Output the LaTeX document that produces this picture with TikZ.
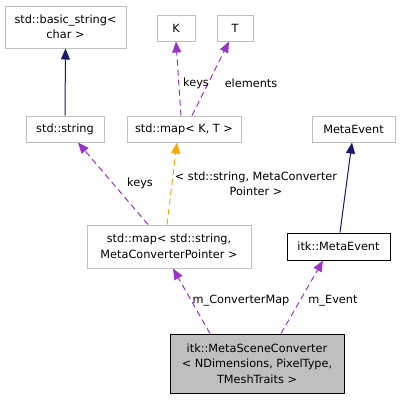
\documentclass[tikz,border=0pt]{standalone}
\usepackage{fontspec}
\setmainfont{DejaVu Sans}
\usetikzlibrary{arrows.meta}
\definecolor{boxgray}{HTML}{BFBFBF}
\definecolor{navyline}{HTML}{191970}
\definecolor{purpleline}{HTML}{9A32CD}
\definecolor{orangeline}{HTML}{FFA500}
\begin{document}
\begin{tikzpicture}[x=1pt,y=-1pt,
  every node/.style={font=\fontsize{11.3}{15.5}\selectfont, inner sep=0pt, align=center},
  box/.style={draw=boxgray, fill=white, line width=1pt},
  blackbox/.style={draw=black, fill=white, line width=1pt},
  mainbox/.style={draw=black, fill=boxgray, line width=1pt},
  inherit/.style={draw=navyline, line width=1pt, -{Triangle[length=11pt,width=9pt]}},
  usage/.style={draw=purpleline, line width=1pt, dash pattern=on 6pt off 4pt, -{Triangle[length=11pt,width=9pt,fill=purpleline]}},
  templ/.style={draw=orangeline, line width=1pt, dash pattern=on 6pt off 4pt, -{Triangle[length=11pt,width=9pt,fill=orangeline]}},
  lbl/.style={fill=none}
]
\useasboundingbox (0,0) rectangle (400,400);
\node[box, minimum width=121pt, minimum height=42pt] (bs) at (65.5,27) {std::basic\_string<\\char >};
\node[box, minimum width=38pt, minimum height=26pt] (K) at (176,28) {K};
\node[box, minimum width=36pt, minimum height=26pt] (T) at (235,28) {T};
\node[box, minimum width=78pt, minimum height=26pt] (str) at (65,129) {std::string};
\node[box, minimum width=114pt, minimum height=26pt] (mapKT) at (184,129) {std::map< K, T >};
\node[box, minimum width=83pt, minimum height=26pt] (ME) at (353.5,129) {MetaEvent};
\node[box, minimum width=164pt, minimum height=43pt] (mapS) at (169,246.5) {std::map< std::string,\\MetaConverterPointer >};
\node[blackbox, minimum width=103pt, minimum height=27pt] (itkME) at (338.5,246.5) {itk::MetaEvent};
\node[mainbox, minimum width=174pt, minimum height=59pt] (msc) at (257,363.5) {itk::MetaSceneConverter\\< NDimensions, PixelType,\\TMeshTraits >};

\draw[inherit] (str.north) -- (bs.south);
\draw[usage] ([xshift=-3pt]mapKT.north) -- ([xshift=0pt]K.south);
\draw[usage] ([xshift=8pt]mapKT.north) -- ([xshift=-6pt]T.south);
\draw[usage] ([xshift=-21pt]mapS.north) -- ([xshift=13pt]str.south);
\draw[templ] ([xshift=-2pt]mapS.north) -- ([xshift=-7pt]mapKT.south);
\draw[inherit] ([xshift=1.5pt]itkME.north) -- ([xshift=-1.5pt]ME.south);
\draw[usage] ([xshift=-47pt]msc.north) -- ([xshift=4pt]mapS.south);
\draw[usage] ([xshift=24pt]msc.north) -- ([xshift=-15.5pt]itkME.south);

\node[lbl] (l1) at (196,83) {keys};
\node[lbl] (l2) at (251,83) {elements};
\node[lbl] (l3) at (140,183) {keys};
\node[lbl] (l4) at (256,184) {< std::string, MetaConverter\\Pointer >};
\node[lbl] (l5) at (241,301) {m\_ConverterMap};
\node[lbl] (l6) at (333,301) {m\_Event};
\end{tikzpicture}
\end{document}
